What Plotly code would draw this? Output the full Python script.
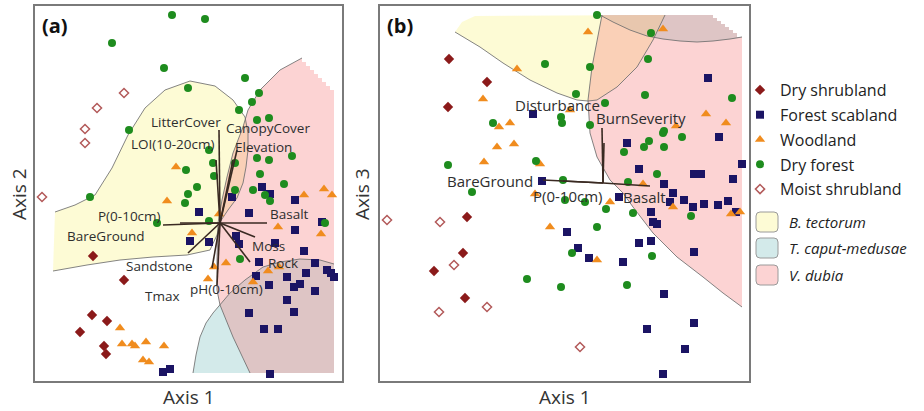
import plotly.graph_objects as go

W, H = 924, 411

# ---------------- DATA ----------------
# Panel (a): ordination scores (x100), Axis 1 vs Axis 2
A_DRYSHRUB_X = [-127, -96, -128, -113, -140, -116, -114]
A_DRYSHRUB_Y = [-33, -57, -92, -98, -109, -123, -131]
A_SCAB_X = [12, 42, 50, 75, -21, 29, 102, 75, -30, -11, 16, 19, 55, 84, 39, 95, 36, 67, 86, 107,
            111, 114, 49, 74, 80, 95, 67, 29, 74, 44, 58, -57, -50, 50]
A_SCAB_Y = [26, 36, 29, 23, 11, 10, 1, -7, -18, -19, -13, -21, -20, -28, -39, -40, -53, -54, -50, -47,
            -50, -54, -62, -64, -61, -68, -77, -90, -89, -106, -106, -149, -146, -151]
A_WOOD_X = [-44, 84, 104, 112, -53, -1, -28, 58, 101, -6, 6, -12, 48, 59, 33, -100, -98, -88, -85, -74,
            -56, -77, -71]
A_WOOD_Y = [56, 28, 34, 28, 22, 9, -10, -4, -11, -44, -40, -56, -48, -44, -59, -105, -121, -121, -123, -119,
            -123, -137, -139]
A_DRYFOR_X = [-48, -15, -108, -56, 25, -32, 39, 32, 19, 37, 49, -91, -11, 15, 37, 49, 72, -7, -34, -6,
              40, 64, -23, -32, 33, 15, -130, -35, 45, 50, -63, -11, 105, 20]
A_DRYFOR_Y = [208, 204, 180, 155, 145, 135, 130, 121, 113, 103, 105, 93, 73, 60, 65, 63, 67, 60, 53, 47,
              49, 39, 36, 29, 33, 33, 26, 20, 28, 22, 0, 2, 0, -36]
A_MOIST_X = [-96, -123, -135, -135, -178]
A_MOIST_Y = [130, 115, 94, 80, 26]

A_VEC_NAMES = ["LitterCover", "LOI(10-20cm)", "CanopyCover", "Elevation", "Basalt", "P(0-10cm)",
               "BareGround", "Sandstone", "Tmax", "pH(0-10cm)", "Moss", "Rock"]
A_VEC_X = [-1, -4, 17, 13, 47, -57, -40, -32, -8, -3, 30, 35]
A_VEC_Y = [93, 63, 73, 63, 0, -2, 0, -30, -45, -62, -39, -14]

# Panel (b): Axis 1 vs Axis 3
B_DRYSHRUB_X = [-154, -116, -155, -136, -140, -169, -138]
B_DRYSHRUB_Y = [124, 101, 76, -34, -70, -88, -115]
B_SCAB_X = [105, -70, 24, 116, 36, 139, 91, 98, 130, -61, 61, 16, 70, 67, 81, 90, 101, 115, 125, 133,
            48, 50, 54, -36, 36, 48, -25, -14, 20, 91, 61, 44, 91, 82, 60]
B_SCAB_Y = [105, 69, 40, 46, 14, 19, 9, 9, 4, 2, -1, -14, -10, -19, -17, -24, -21, -22, -18, -29,
            -29, -39, -41, -49, -60, -58, -65, -75, -79, -69, -111, -146, -140, -166, -191]
B_WOOD_X = [-15, 60, -86, -120, -33, -93, -104, -106, -89, -119, -63, 73, 103, 123, 40, -68, 7, 70, 128, 137,
            -53, -6]
B_WOOD_Y = [151, 154, 114, 84, 73, 60, 56, 36, 39, 21, 19, 57, 69, 60, -1, -11, -19, -24, -31, -29,
            -44, -77]
B_DRYFOR_X = [-6, 48, -58, -13, 45, -27, 2, 42, 129, -42, -41, -13, -110, 61, 60, 79, 46, 61, 41, 21,
              -155, -67, -40, -131, 54, 25, -38, -18, 3, 30, -6, 88, -31, 49, -76, -42, 24]
B_DRYFOR_Y = [168, 150, 119, 116, 124, 89, 80, 88, 85, 66, 60, 58, 60, 52, 50, 46, 42, 36, 36, 31,
              18, 22, 3, -9, 9, 1, -17, -19, -26, -30, -44, -33, -70, -73, -96, -104, -102]
B_MOIST_X = [-216, -163, -149, -164, -116, -23]
B_MOIST_Y = [-37, -39, -82, -129, -124, -164]

B_VEC_NAMES = ["Disturbance", "BurnSeverity", "BareGround", "P(0-10cm)", "Basalt"]
B_VEC_X = [1, -1, -60, -40, 47]
B_VEC_Y = [40, 55, 3, 2, -3]

# Species distribution regions (boundaries in score units)
A_TECT_X = [-167, -133, -100, -67, -33, -10, -3, 0, 8, 17, 23, 26, 28, 28, 25, 13, -5, -30, -55, -75,
            -92, -108, -125, -145, -165]
A_TECT_Y = [-48, -42, -37, -34, -32, -27, -12, 1, 13, 25, 40, 56, 73, 90, 106, 123, 137, 142, 133, 115,
            88, 55, 28, 18, 11]
A_DUBIA_X = [82, 60, 40, 28, 23, 13, 7, 2, -2, -3, -3, 0, 13, 30, 114, 114,
             110, 110, 106, 106, 102, 102, 98, 98, 94, 94, 90, 90, 86, 86, 82]
A_DUBIA_Y = [165, 153, 133, 113, 96, 70, 46, 23, 0, -37, -67, -82, -114, -150, -150, 133,
             133, 137, 137, 141, 141, 145, 145, 149, 149, 153, 153, 157, 157, 161, 161]
A_CAPUT_X = [-27, -24, -20, -14, -7, 2, 10, 25, 43, 60, 80, 100, 114, 114]
A_CAPUT_Y = [-150, -132, -114, -100, -90, -79, -70, -57, -44, -39, -36, -37, -41, -150]

B_TECT_X = [-148, -123, -100, -73, -46, -26, -15, -6, 14, 34, 50, 62, -128, -141]
B_TECT_Y = [151, 136, 120, 103, 90, 83, 82, 83, 96, 116, 143, 168, 167, 161]
B_DUBIA_X = [-1, -6, -11, -15, -13, -6, 7, 20, 30, 50, 74, 100, 120, 139, 139,
             134, 134, 130, 130, 126, 126, 122, 122, 118, 118, 114, 114, 110, 110]
B_DUBIA_Y = [168, 143, 116, 83, 50, 26, 3, -10, -24, -50, -74, -94, -110, -124, 146,
             146, 150, 150, 153, 153, 156, 156, 159, 159, 162, 162, 165, 165, 168]
B_CAPUT_X = [-3, 10, 27, 44, 60, 77, 94, 110, 127, 139,
             134, 134, 130, 130, 126, 126, 122, 122, 118, 118, 114, 114, 110, 110]
B_CAPUT_Y = [168, 161, 153, 147, 144, 142, 141, 142, 144, 146,
             146, 150, 150, 153, 153, 156, 156, 159, 159, 162, 162, 165, 165, 168]

GROUPS = ["Dry shrubland", "Forest scabland", "Woodland", "Dry forest", "Moist shrubland"]
SPECIES = ["B. tectorum", "T. caput-medusae", "V. dubia"]

# ---------------- LABEL PLACEMENT / STYLE ----------------
A_LAB_POS = [(-34, 101), (-48, 79), (48, 95), (43, 76), (69, 9), (-91, 7), (-114, -13),
             (-61, -43), (-58, -73), (6, -66), (48, -23), (63, -40)]
B_LAB_POS = [(-46, 78), (38, 65), (-113, 2), (-35, -13), (41, -14)]

FONT = "Open Sans"
YELLOW = "rgba(250,245,150,0.40)"
PINK = "rgba(245,120,120,0.33)"
TEAL = "rgba(120,190,190,0.33)"
EDGE = "rgba(110,110,110,0.85)"
VEC = "#3a2a22"
STYLE = {
    "Dry shrubland": dict(symbol="diamond", color="#8b1a1a", size=8),
    "Forest scabland": dict(symbol="square", color="#1b1464", size=8),
    "Woodland": dict(symbol="triangle-up", color="#f08c1e", size=9),
    "Dry forest": dict(symbol="circle", color="#1e8c1e", size=8),
    "Moist shrubland": dict(symbol="diamond-open", color="#b35a5a", size=7, line=dict(width=1.5, color="#b35a5a")),
}

fig = go.Figure()


def poly(xs, ys, color, xa, ya):
    fig.add_trace(go.Scatter(x=xs + [xs[0]], y=ys + [ys[0]], mode="lines", fill="toself",
                             fillcolor=color, line=dict(width=0), hoverinfo="skip",
                             showlegend=False, xaxis=xa, yaxis=ya))


def edge(xs, ys, xa, ya):
    fig.add_trace(go.Scatter(x=xs, y=ys, mode="lines", line=dict(width=1, color=EDGE),
                             hoverinfo="skip", showlegend=False, xaxis=xa, yaxis=ya))


# panel a regions
poly(A_CAPUT_X, A_CAPUT_Y, TEAL, "x", "y")
poly(A_TECT_X, A_TECT_Y, YELLOW, "x", "y")
poly(A_DUBIA_X, A_DUBIA_Y, PINK, "x", "y")
edge(A_CAPUT_X[:13], A_CAPUT_Y[:13], "x", "y")
edge(A_TECT_X, A_TECT_Y, "x", "y")
edge(A_DUBIA_X[:14], A_DUBIA_Y[:14], "x", "y")
# panel b regions
poly(B_CAPUT_X, B_CAPUT_Y, TEAL, "x2", "y2")
poly(B_TECT_X, B_TECT_Y, YELLOW, "x2", "y2")
poly(B_DUBIA_X, B_DUBIA_Y, PINK, "x2", "y2")
edge(B_CAPUT_X[:10], B_CAPUT_Y[:10], "x2", "y2")
edge(B_TECT_X[:12], B_TECT_Y[:12], "x2", "y2")
edge(B_DUBIA_X[:14], B_DUBIA_Y[:14], "x2", "y2")

A_SERIES = {
    "Dry shrubland": (A_DRYSHRUB_X, A_DRYSHRUB_Y),
    "Forest scabland": (A_SCAB_X, A_SCAB_Y),
    "Woodland": (A_WOOD_X, A_WOOD_Y),
    "Dry forest": (A_DRYFOR_X, A_DRYFOR_Y),
    "Moist shrubland": (A_MOIST_X, A_MOIST_Y),
}
B_SERIES = {
    "Dry shrubland": (B_DRYSHRUB_X, B_DRYSHRUB_Y),
    "Forest scabland": (B_SCAB_X, B_SCAB_Y),
    "Woodland": (B_WOOD_X, B_WOOD_Y),
    "Dry forest": (B_DRYFOR_X, B_DRYFOR_Y),
    "Moist shrubland": (B_MOIST_X, B_MOIST_Y),
}

for g in GROUPS:
    st = dict(STYLE[g])
    if "line" not in st:
        st["line"] = dict(width=0)
    ax, ay = A_SERIES[g]
    bx, by = B_SERIES[g]
    fig.add_trace(go.Scatter(x=ax, y=ay, mode="markers", name=g, legendgroup=g, marker=st,
                             xaxis="x", yaxis="y"))
    fig.add_trace(go.Scatter(x=bx, y=by, mode="markers", name=g, legendgroup=g, marker=st,
                             showlegend=False, xaxis="x2", yaxis="y2"))


def vectors(vx, vy, xa, ya):
    xs, ys = [], []
    for x, y in zip(vx, vy):
        xs += [0, x, None]
        ys += [0, y, None]
    fig.add_trace(go.Scatter(x=xs, y=ys, mode="lines", line=dict(width=1.6, color=VEC),
                             hoverinfo="skip", showlegend=False, xaxis=xa, yaxis=ya))


vectors(A_VEC_X, A_VEC_Y, "x", "y")
vectors(B_VEC_X, B_VEC_Y, "x2", "y2")

ann = []
for name, (lx, ly) in zip(A_VEC_NAMES, A_LAB_POS):
    ann.append(dict(x=lx, y=ly, xref="x", yref="y", text=name, showarrow=False,
                    xanchor="center", yanchor="middle", borderpad=0,
                    font=dict(family=FONT, size=13.5, color="#2e2e2e")))
for name, (lx, ly) in zip(B_VEC_NAMES, B_LAB_POS):
    ann.append(dict(x=lx, y=ly, xref="x2", yref="y2", text=name, showarrow=False,
                    xanchor="center", yanchor="middle", borderpad=0,
                    font=dict(family=FONT, size=15, color="#2e2e2e")))


def P(px, py):
    return px / W, 1 - py / H


for txt, (px, py) in [("<b>(a)</b>", (55, 25)), ("<b>(b)</b>", (400, 25))]:
    x, y = P(px, py)
    ann.append(dict(x=x, y=y, xref="paper", yref="paper", text=txt, showarrow=False,
                    xanchor="center", yanchor="middle",
                    font=dict(family=FONT, size=20, color="#111")))
for txt, (px, py), ang in [("Axis 1", (189, 397), 0), ("Axis 1", (565, 397), 0),
                           ("Axis 2", (19, 194), -90), ("Axis 3", (362, 194), -90)]:
    x, y = P(px, py)
    ann.append(dict(x=x, y=y, xref="paper", yref="paper", text=txt, showarrow=False, textangle=ang,
                    xanchor="center", yanchor="middle",
                    font=dict(family=FONT, size=19, color="#333")))

# species keys
shapes = []
for sp, col, cy in zip(SPECIES, [YELLOW, TEAL, PINK], [222, 248, 275]):
    x0, y0 = P(756, cy - 10)
    x1, y1 = P(778, cy + 10)
    r = 4
    rx, ry = r / W, r / H
    path = (f"M{x0 + rx},{y0} L{x1 - rx},{y0} Q{x1},{y0} {x1},{y0 - ry} L{x1},{y1 + ry} "
            f"Q{x1},{y1} {x1 - rx},{y1} L{x0 + rx},{y1} Q{x0},{y1} {x0},{y1 + ry} "
            f"L{x0},{y0 - ry} Q{x0},{y0} {x0 + rx},{y0} Z")
    shapes.append(dict(type="path", xref="paper", yref="paper", path=path, fillcolor=col,
                       line=dict(color="#9a9a9a", width=1)))
    tx, ty = P(787, cy)
    ann.append(dict(x=tx, y=ty, xref="paper", yref="paper", text=f"<i>{sp}</i>", showarrow=False,
                    xanchor="left", yanchor="middle", font=dict(family=FONT, size=15, color="#222")))

axis_common = dict(showticklabels=False, showgrid=False, zeroline=False, ticks="",
                   showline=True, mirror=True, linecolor="#7a7a7a", linewidth=1.5, fixedrange=True)
ydom = [(H - 381) / H, (H - 6) / H]
fig.update_layout(
    width=W, height=H, margin=dict(l=0, r=0, t=0, b=0),
    paper_bgcolor="white", plot_bgcolor="white",
    font=dict(family=FONT),
    xaxis=dict(domain=[35 / W, 342 / W], range=[-185, 122], **axis_common),
    yaxis=dict(domain=ydom, range=[-158, 217], **axis_common),
    xaxis2=dict(domain=[380 / W, 749 / W], range=[-223, 146], anchor="y2", **axis_common),
    yaxis2=dict(domain=ydom, range=[-198, 177], anchor="x2", **axis_common),
    legend=dict(x=740 / W, y=1 - 73 / H, xanchor="left", yanchor="top", bgcolor="rgba(0,0,0,0)",
                font=dict(family=FONT, size=16, color="#222"), tracegroupgap=1,
                itemclick=False, itemdoubleclick=False),
    annotations=ann, shapes=shapes,
)

fig.write_html("out.html", config={"displayModeBar": False},
               post_script="document.body.style.margin='0';document.body.style.overflow='hidden';")
